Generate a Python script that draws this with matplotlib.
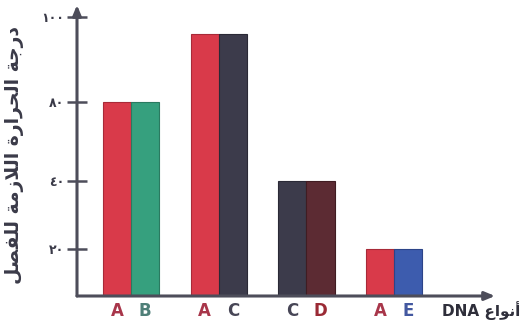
import numpy as np
import matplotlib
matplotlib.use("Agg")
import matplotlib.pyplot as plt
from matplotlib.scale import FuncScale

# Separation temperature for each pair of DNA strands
left_labels = ["A", "A", "C", "A"]
right_labels = ["B", "C", "D", "E"]
left_values = [80, 96, 40, 20]
right_values = [80, 96, 40, 20]

y_ticks = [20, 40, 80, 100]
y_tick_labels = ["\u0662\u0660", "\u0664\u0660", "\u0668\u0660", "\u0661\u0660\u0660"]

# Arabic labels written in visual order with presentation forms
# "درجة الحرارة اللازمة للفصل"
y_label = ("\ufede\ufebc\ufed4\ufee0\ufedf" + " " +
           "\ufe94\ufee3\ufeaf\ufefc\ufedf\ufe8d" + " " +
           "\ufe93\ufead\ufe8d\ufeae\ufea4\ufedf\ufe8d" + " " +
           "\ufe94\ufe9f\ufead\ufea9")
# "أنواع DNA"
x_label = "DNA " + "\ufec9\ufe8d\ufeee\ufee7\ufe83"

bar_colors = {"A": "#d93a4a", "B": "#36a07e", "C": "#3c3b4b",
              "D": "#5c2b33", "E": "#3d5cae"}
edge_colors = {"A": "#a82a38", "B": "#2a7a60", "C": "#2a2936",
               "D": "#401c22", "E": "#2c4488"}
letter_colors = {"A": "#a8364a", "B": "#4f7f78", "C": "#474656",
                 "D": "#9a2a35", "E": "#4358a0"}
axis_color = "#4d4d5a"

# Hand-drawn vertical axis: uneven spacing between the marked values
knots_v = [0, 20, 40, 80, 100, 200]
knots_h = [0, 47, 115, 194, 279, 704]


def forward(v):
    return np.interp(v, knots_v, knots_h)


def inverse(h):
    return np.interp(h, knots_h, knots_v)


fig = plt.figure(figsize=(5.24, 3.27), dpi=100)
ax = fig.add_axes([77 / 524, 31 / 327, (495 - 77) / 524, (322 - 31) / 327])
ax.set_yscale(FuncScale(ax.yaxis, (forward, inverse)))

x = np.arange(len(left_labels))
w = 0.32
ax.bar(x - w / 2, left_values, width=w,
       color=[bar_colors[k] for k in left_labels],
       edgecolor=[edge_colors[k] for k in left_labels], linewidth=0.8, zorder=2)
ax.bar(x + w / 2, right_values, width=w,
       color=[bar_colors[k] for k in right_labels],
       edgecolor=[edge_colors[k] for k in right_labels], linewidth=0.8, zorder=2)

ax.set_xlim(-0.616, 4.15)
ax.set_ylim(0, inverse(291))

for s in ax.spines.values():
    s.set_visible(False)

# Axes with arrowheads
ax.annotate("", xy=(0, 1.0), xytext=(0, 0), xycoords="axes fraction",
            arrowprops=dict(arrowstyle="-|>,head_length=0.6,head_width=0.25",
                            color=axis_color, lw=2.2, shrinkA=0, shrinkB=0),
            zorder=3)
ax.annotate("", xy=(1.0, 0), xytext=(0, 0), xycoords="axes fraction",
            arrowprops=dict(arrowstyle="-|>,head_length=0.6,head_width=0.25",
                            color=axis_color, lw=2.2, shrinkA=0, shrinkB=0),
            zorder=3)

ax.set_yticks(y_ticks)
ax.set_yticklabels(y_tick_labels, fontsize=9, fontweight="bold", color="#3a3a48",
                   family="DejaVu Sans")
ax.tick_params(axis="y", direction="inout", length=14, width=1.8,
               color=axis_color, pad=2)
ax.set_xticks([])

for i in range(len(left_labels)):
    ax.text(x[i] - w / 2, -0.05, left_labels[i], transform=ax.get_xaxis_transform(),
            ha="center", va="center", fontsize=12, fontweight="bold",
            color=letter_colors[left_labels[i]])
    ax.text(x[i] + w / 2, -0.05, right_labels[i], transform=ax.get_xaxis_transform(),
            ha="center", va="center", fontsize=12, fontweight="bold",
            color=letter_colors[right_labels[i]])

fig.text(520 / 524, 1 - 311 / 327, x_label, ha="right", va="center",
         fontsize=11, fontweight="bold", color="#2e2e3a", family="DejaVu Sans")
fig.text(15 / 524, 1 - 155 / 327, y_label, rotation=90, ha="center", va="center",
         fontsize=13.5, fontweight="bold", color="#3a3a48", family="DejaVu Sans")

fig.savefig("out.png", dpi=100, facecolor="white")
